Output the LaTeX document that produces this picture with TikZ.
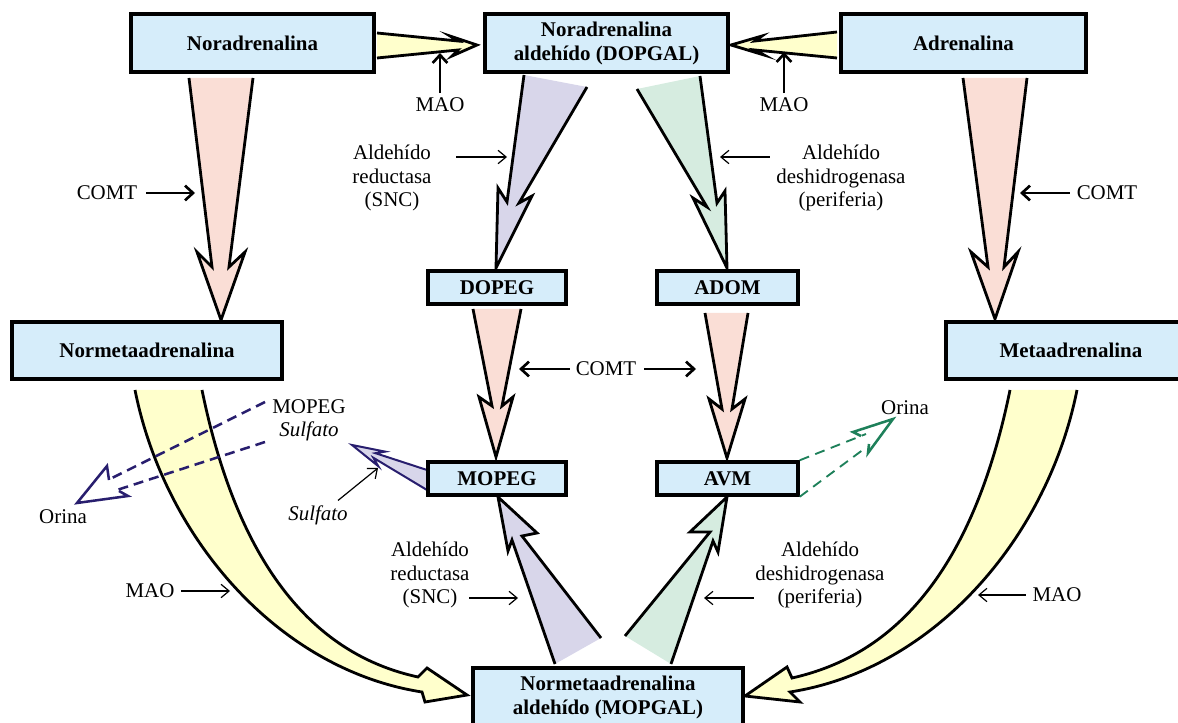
\documentclass[tikz,border=0pt]{standalone}
\usepackage{fontspec}
\setmainfont{Liberation Serif}
\usetikzlibrary{arrows.meta,calc}
\definecolor{boxblue}{RGB}{214,237,250}
\definecolor{pinkf}{RGB}{250,222,214}
\definecolor{yellowf}{RGB}{255,255,204}
\definecolor{lavf}{RGB}{216,214,234}
\definecolor{greenf}{RGB}{214,236,224}
\definecolor{navyc}{RGB}{40,30,110}
\definecolor{dgreen}{RGB}{30,128,90}
\newcommand\fatarr[8]{\draw[fatline,#1] #2 -- #3 -- #4 -- #5 -- #6 -- #7 -- #8;}
\begin{document}
\begin{tikzpicture}[x=0.75pt,y=-0.75pt,
  box/.style={draw=black, line width=2.6pt, fill=boxblue, inner sep=0pt, align=center,
    font=\fontsize{15.7}{18}\selectfont\bfseries},
  lbl/.style={inner sep=2pt, align=center, font=\fontsize{15.7}{17.3}\selectfont},
  fatline/.style={line width=2.1pt, line join=miter, draw=black},
  thn/.style={line width=0.9pt, -{Straight Barb[length=6pt,width=10pt]}},
  thk/.style={line width=2pt, -{Straight Barb[length=6pt,width=11pt]}},
  navydash/.style={draw=navyc, line width=1.9pt, dash pattern=on 7.5pt off 4.5pt},
  navyhead/.style={draw=navyc, line width=1.9pt, line join=miter},
  greendash/.style={draw=dgreen, line width=1.4pt, dash pattern=on 7.5pt off 5pt},
  greenhead/.style={draw=dgreen, line width=1.9pt, line join=miter}]
\useasboundingbox (0,0) rectangle (1178,723);

% ---- fat arrows (drawn first, boxes on top) ----
\fatarr{fill=pinkf}{(189,78)}{(212,267)}{(197,252)}{(221,320)}{(245,252)}{(229,267)}{(253,78)}
\fatarr{fill=pinkf}{(963,78)}{(988,267)}{(971,252)}{(995,319)}{(1018,252)}{(1004,267)}{(1027,78)}
\fatarr{fill=yellowf}{(377,33)}{(458,41)}{(450,36)}{(477,45)}{(452,56)}{(458,50)}{(377,58)}
\fatarr{fill=yellowf}{(837,32)}{(755,41)}{(762,36)}{(731,45)}{(764,55)}{(755,50)}{(837,58)}
\fatarr{fill=lavf}{(524,75)}{(507,202)}{(498,188)}{(496,268)}{(532,196)}{(519,203)}{(587,87)}
\fatarr{fill=greenf}{(637,89)}{(707,207)}{(693,198)}{(727,268)}{(725,191)}{(717,203)}{(700,76)}
\fatarr{fill=pinkf}{(473,309)}{(492,406)}{(479,397)}{(496,457)}{(513,397)}{(502,406)}{(521,309)}
\fatarr{fill=pinkf}{(705,313)}{(722,409)}{(709,399)}{(727,458)}{(745,399)}{(732,409)}{(748,313)}
\fatarr{fill=lavf}{(555,664)}{(512,540)}{(508,551)}{(498,497)}{(537,533)}{(522,536)}{(601,638)}
\fatarr{fill=greenf}{(625,636)}{(710,532)}{(690,532)}{(727,497)}{(718,552)}{(713,541)}{(671,664)}
\fatarr{fill=lavf,draw=navyc,line width=1.5pt}{(427,470)}{(375.5,453.2)}{(385.1,451.6)}{(352,445)}{(378.3,466.2)}{(373.4,457.8)}{(427,490)}

% curved MAO arrows
\draw[fatline, fill=yellowf] (135,390) .. controls (165,540) and (280,670) .. (422,692)
  -- (425,702) -- (467,695) -- (427,668) -- (418,677)
  .. controls (340,660) and (245,600) .. (202,390);
\draw[fatline, fill=yellowf] (1077,390) .. controls (1047,540) and (932,670) .. (790,692)
  -- (800,702) -- (745,696) -- (787,667) -- (792,678)
  .. controls (872,660) and (967,600) .. (1010,390);

% ---- boxes ----
\node[box, minimum width=182.25pt, minimum height=43.5pt] (nor) at (252.5,43) {Noradrenalina};
\node[box, minimum width=182.25pt, minimum height=43.5pt] (dopgal) at (606.5,43) {Noradrenalina\\aldehído (DOPGAL)};
\node[box, minimum width=183.75pt, minimum height=43.5pt] (adr) at (963.5,43) {Adrenalina};
\node[box, minimum width=103.5pt, minimum height=24.75pt] (dopeg) at (497,287.5) {DOPEG};
\node[box, minimum width=105.75pt, minimum height=24.75pt] (adom) at (727.5,287.5) {ADOM};
\node[box, minimum width=202.5pt, minimum height=42.75pt] (normeta) at (147,350.5) {Normetaadrenalina};
\node[box, minimum width=187.5pt, minimum height=42.75pt] (meta) at (1071,350.5) {Metaadrenalina};
\node[box, minimum width=103.5pt, minimum height=24.75pt] (mopeg) at (497,478.5) {MOPEG};
\node[box, minimum width=105.75pt, minimum height=24.75pt] (avm) at (727.5,478.5) {AVM};
\node[box, minimum width=202.5pt, minimum height=43.5pt] (mopgal) at (608,697) {Normetaadrenalina\\aldehído (MOPGAL)};

% ---- labels ----
\node[lbl] (mao1) at (440,105) {MAO};
\node[lbl] (mao2) at (784,105) {MAO};
\node[lbl] (comt1) at (107,193) {COMT};
\node[lbl] (comt2) at (1107,193) {COMT};
\node[lbl] (comt3) at (606,369) {COMT};
\node[lbl] (ar1) at (392,178) {Aldehído\\reductasa\\(SNC)};
\node[lbl] (ad1) at (841,178) {Aldehído\\deshidrogenasa\\(periferia)};
\node[lbl] (ar2) at (430,575) {Aldehído\\reductasa\\(SNC)};
\node[lbl] (ad2) at (820,575) {Aldehído\\deshidrogenasa\\(periferia)};
\node[lbl] (mps) at (309,420) {MOPEG\\\textit{Sulfato}};
\node[lbl] (sulf) at (318,515) {\textit{Sulfato}};
\node[lbl] (orL) at (63,517) {Orina};
\node[lbl] (orR) at (905,408) {Orina};
\node[lbl] (mao3) at (150,591) {MAO};
\node[lbl] (mao4) at (1057,595) {MAO};

% ---- enzyme pointers ----
\coordinate (mao1t) at (440,53);
\coordinate (mao2t) at (784,52);
\coordinate (comt1t) at (195,193);
\coordinate (comt2t) at (1020,193);
\coordinate (comt3l) at (519,369);
\coordinate (comt3r) at (696,369);
\coordinate (ar1t) at (507,157);
\coordinate (ad1t) at (720,157);
\coordinate (ar2t) at (518,598);
\coordinate (ad2t) at (704,598);
\coordinate (mao3t) at (230,591);
\coordinate (mao4t) at (978,595);
\coordinate (sulft) at (378,468);

\draw[thk] ($(mao1.north)+(0,-2)$) -- (mao1t);
\draw[thk] ($(mao2.north)+(0,-2)$) -- (mao2t);
\draw[thk] ($(comt1.east)+(6,0)$) -- (comt1t);
\draw[thk] ($(comt2.west)+(-4,0)$) -- (comt2t);
\draw[thk] ($(comt3.west)+(-3,0)$) -- (comt3l);
\draw[thk] ($(comt3.east)+(5,0)$) -- (comt3r);
\draw[thn] ($(ar1.east |- ar1t)+(22,0)$) -- (ar1t);
\draw[thn] ($(ad1.west |- ad1t)+(-4,0)$) -- (ad1t);
\draw[thn] ($(ar2.east |- ar2t)+(-3,0)$) -- (ar2t);
\draw[thn] ($(ad2.west |- ad2t)+(1,0)$) -- (ad2t);
\draw[thn] ($(mao3.east)+(4,0)$) -- (mao3t);
\draw[thn] ($(mao4.west)+(-4,0)$) -- (mao4t);
\draw[thn] ($(sulf.north)+(20,-2)$) -- (sulft);

% ---- excretion (dashed) ----
\coordinate (mpd1) at (265,402);
\coordinate (mpd2) at (265,442);
\coordinate (orLa) at (112,478);
\coordinate (orLb) at (117,490);
\coordinate (orLt) at (77,503);
\draw[navydash] (mpd1) -- (orLa);
\draw[navydash] (mpd2) -- (orLb);
\draw[navyhead] (109,480) -- (107,466) -- (orLt) -- (128,496) -- (119,491);

\coordinate (orRa) at (866,434);
\coordinate (orRb) at (864,449);
\coordinate (orRt) at (893,419);
\draw[greendash] (avm.north east) -- (orRa);
\draw[greendash] (avm.south east) -- (orRb);
\draw[greenhead] (861,436) -- (853,432) -- (orRt) -- (868,453) -- (869,444);
\end{tikzpicture}
\end{document}
